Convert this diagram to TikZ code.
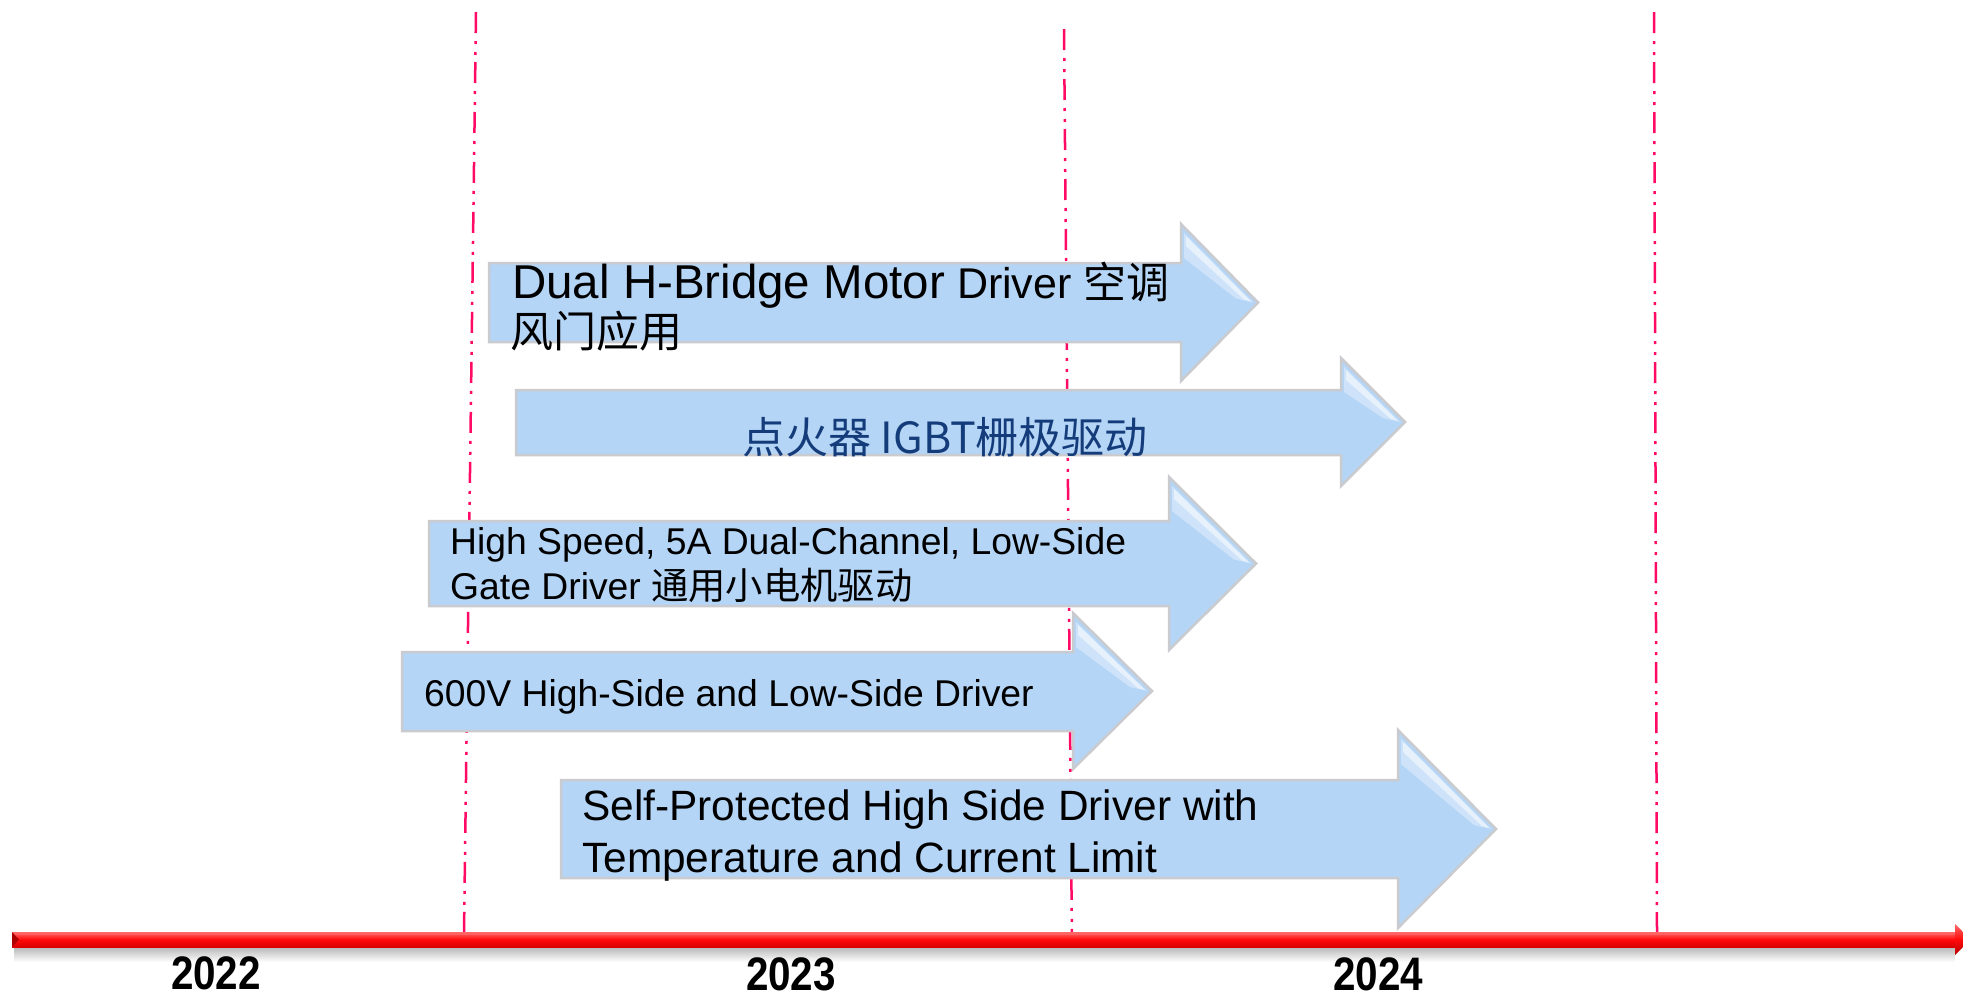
\documentclass[tikz,border=0pt]{standalone}
\usepackage{fontspec}
\setmainfont{Liberation Sans}
\newfontfamily\cjk{Noto Sans CJK SC}
\newfontfamily\yearfont{Liberation Sans}[FakeStretch=0.86]
\definecolor{arrowblue}{HTML}{B5D5F6}
\definecolor{arrowedge}{HTML}{C9CBCF}
\definecolor{guide}{HTML}{FF0A64}
\definecolor{labelblue}{HTML}{143C7A}
\definecolor{barlight}{HTML}{FF6A6A}
\definecolor{barmid}{HTML}{FF0A0A}
\definecolor{bardark}{HTML}{D80000}
\tikzset{
  guideline/.style={draw=guide, line width=2.5pt, dash pattern=on 21pt off 8pt on 3pt off 8pt on 3pt off 7pt},
  arrowbody/.style={fill=arrowblue, draw=arrowedge, line width=2.5pt, line join=miter},
  gleam/.style={fill=white, draw=none},
  arrowtext/.style={inner sep=0pt, anchor=base west, text=black},
  yeartext/.style={inner sep=0pt, anchor=base, font=\yearfont\bfseries\fontsize{47}{50}\selectfont}
}
% #1 left, #2 top, #3 bottom, #4 head x, #5 head top, #6 head bottom, #7 tip x
\newcommand\blockarrow[7]{%
  \filldraw[arrowbody] (#1,#2) -- (#4,#2) -- (#4,#5) -- (#7,{(#5+#6)/2}) -- (#4,#6) -- (#4,#3) -- (#1,#3) -- cycle;
  \fill[gleam, opacity=0.35] (#4+3,#5+9) -- (#7-5,{(#5+#6)/2}) -- (#7-22,{(#5+#6)/2-4}) -- (#4+3,#5+34) -- cycle;
  \fill[gleam, opacity=0.5] (#4+5,#5+12) -- (#7-7,{(#5+#6)/2-1}) -- (#7-14,{(#5+#6)/2-3}) -- (#4+5,#5+22) -- cycle;
}
\begin{document}
\begin{tikzpicture}[x=1pt, y=-1pt]
\useasboundingbox (0,0) rectangle (1963,997);
\fill[white] (0,0) rectangle (1963,997);

% dashed year guides
\coordinate (g1t) at (476,12);  \coordinate (g1b) at (464,933);
\coordinate (g2t) at (1064,29); \coordinate (g2b) at (1072,949);
\coordinate (g3t) at (1654,12); \coordinate (g3b) at (1657,932);
\draw[guideline] (g1t) -- (g1b);
\draw[guideline] (g2t) -- (g2b);
\draw[guideline] (g3t) -- (g3b);

% block arrows
\blockarrow{489}{263}{342}{1181}{224}{381}{1258}
\blockarrow{516}{390}{455}{1341}{358}{486}{1405}
\blockarrow{429}{521}{606}{1169}{477}{650}{1256}
\blockarrow{402}{652}{731}{1073}{613}{769}{1152}
\blockarrow{561}{780}{878}{1398}{730}{928}{1496}

% arrow texts
\node[arrowtext] (t1a) at (512,298) {\fontsize{47.5}{50}\selectfont Dual H-Bridge Motor\fontsize{43}{46}\selectfont{} Driver {\cjk 空调}};
\node[arrowtext] (t1b) at (510,347) {\fontsize{43}{46}\selectfont\cjk 风门应用};
\node[inner sep=0pt, anchor=base, text=labelblue] (t2) at (945,453) {\fontsize{43}{46}\selectfont\cjk 点火器 IGBT栅极驱动};
\node[arrowtext] (t3a) at (450,554) {\fontsize{37.3}{40}\selectfont High Speed, 5A Dual-Channel, Low-Side};
\node[arrowtext] (t3b) at (450,599) {\fontsize{37.3}{40}\selectfont Gate Driver {\cjk 通用小电机驱动}};
\node[arrowtext] (t4) at (424,706) {\fontsize{37.3}{40}\selectfont 600V High-Side and Low-Side Driver};
\node[arrowtext] (t5a) at (582,820) {\fontsize{42.4}{46}\selectfont Self-Protected High Side Driver with};
\node[arrowtext] (t5b) at (582,872) {\fontsize{42.4}{46}\selectfont Temperature and Current Limit};

% timeline bar
\shade[top color=black!30, bottom color=white] (14,946) rectangle (1955,962);
\shade[top color=barlight, bottom color=bardark, middle color=barmid] (12,932) rectangle (1955,947);
\fill[barlight, opacity=0.6] (12,932) rectangle (1955,935);
\fill[bardark!80!black] (12,932) -- (19,939.5) -- (12,947) -- cycle;
\shade[top color=barlight, bottom color=bardark!85!black, middle color=barmid] (1955,924) -- (1971,939.5) -- (1955,955) -- cycle;

% years
\node[yeartext] (y1) at (216,989) {2022};
\node[yeartext] (y2) at (791,990) {2023};
\node[yeartext] (y3) at (1378,990) {2024};
\end{tikzpicture}
\end{document}
